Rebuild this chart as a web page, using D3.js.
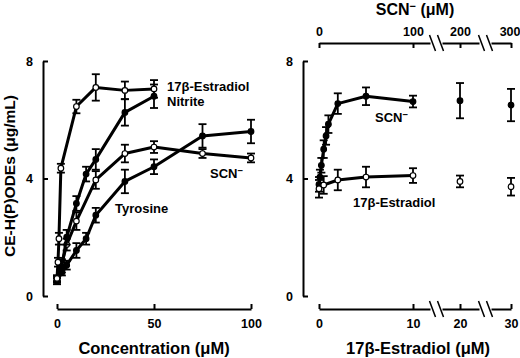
<!DOCTYPE html>
<html>
<head>
<meta charset="utf-8">
<script src="https://cdn.jsdelivr.net/npm/d3@7"></script>
<style>
  body { margin: 0; background: #fff; }
  svg { display: block; }
  text { font-family: "Liberation Sans", Arial, sans-serif; font-weight: bold; fill: #000; }
</style>
</head>
<body>
<div id="chart"></div>
<script>
// left panel: concentration (uM) vs CE-H(P)ODEs (ug/mL)
const estX = [0, 0.5, 1, 2, 10, 20, 35, 50];
const estY = [0.6, 1.15, 1.95, 4.35, 6.45, 7.1, 7.0, 7.05];
const estE = [0.1, 0.15, 0.2, 0.15, 0.23, 0.45, 0.3, 0.3];

const nitX = [0, 2.5, 5, 10, 15, 20, 35, 50];
const nitY = [0.55, 1.0, 2.0, 3.15, 4.15, 4.65, 6.25, 6.8];
const nitE = [0.1, 0.2, 0.25, 0.25, 0.25, 0.35, 0.45, 0.4];

const scnX = [0, 2.5, 5, 10, 20, 35, 50, 75, 100];
const scnY = [0.6, 1.1, 1.75, 2.55, 3.95, 4.85, 5.07, 4.85, 4.7];
const scnE = [0.1, 0.15, 0.2, 0.3, 0.3, 0.3, 0.2, 0.15, 0.15];

const tyrX = [0, 2.5, 5, 10, 15, 20, 35, 50, 75, 100];
const tyrY = [0.5, 0.8, 1.05, 1.55, 1.95, 2.75, 3.9, 4.4, 5.45, 5.6];
const tyrE = [0.1, 0.1, 0.15, 0.25, 0.2, 0.25, 0.4, 0.25, 0.4, 0.4];

// right panel: SCN- (top axis) and 17b-estradiol (bottom axis)
const scnRX = [0, 1, 2.5, 5, 7.5, 10, 20, 50, 100];
const scnRY = [3.8, 4.05, 4.45, 5.0, 5.45, 5.85, 6.55, 6.8, 6.62];
const scnRE = [0.25, 0.25, 0.25, 0.3, 0.3, 0.3, 0.35, 0.3, 0.2];
const scnBX = [200, 300];
const scnBY = [6.65, 6.5];
const scnBE = [0.6, 0.55];

const estRX = [0, 0.5, 2, 5, 10];
const estRY = [3.65, 3.78, 3.95, 4.05, 4.1];
const estRE = [0.3, 0.3, 0.35, 0.35, 0.25];
const estBX = [20, 30];
const estBY = [3.9, 3.72];
const estBE = [0.2, 0.3];

const yTicks = [0, 4, 8];
const leftTicks = [0, 50, 100];
const rightBottomTicks = [0, 10, 20, 30];
const rightTopTicks = [0, 100, 200, 300];

const W = 520, H = 358;
const svg = d3.select('#chart').append('svg').attr('width', W).attr('height', H);

const y = d3.scaleLinear().domain([0, 8]).range([296, 61]);
const xL = d3.scaleLinear().domain([0, 100]).range([57, 251]);
const xRB = d3.scaleLinear().domain([0, 10, 20, 30]).range([319, 413, 460, 511]);
const xRT = d3.scaleLinear().domain([0, 100, 200, 300]).range([319, 413, 460, 511]);

function styleAxis(g) {
  g.selectAll('.domain').attr('stroke', '#000').attr('stroke-width', 2);
  g.selectAll('.tick line').attr('stroke', '#000').attr('stroke-width', 2);
  g.selectAll('.tick text').attr('font-size', 12.5).style('font-family', '"Liberation Sans", Arial, sans-serif').style('font-weight', 'bold');
}

// y axes
[43, 303].forEach(ax => {
  svg.append('g').attr('transform', `translate(${ax},0)`)
    .call(d3.axisLeft(y).tickValues(yTicks).tickSizeInner(-5).tickSizeOuter(0).tickPadding(10))
    .call(styleAxis);
});

// bottom axes
svg.append('g').attr('transform', 'translate(0,309)')
  .call(d3.axisBottom(xL).tickValues(leftTicks).tickSizeInner(-5).tickSizeOuter(0).tickPadding(10))
  .call(styleAxis);

const rb = svg.append('g').attr('transform', 'translate(0,309)')
  .call(d3.axisBottom(xRB).tickValues(rightBottomTicks).tickSizeInner(-5).tickSizeOuter(0).tickPadding(10))
  .call(styleAxis);

const rt = svg.append('g').attr('transform', 'translate(0,43)')
  .call(d3.axisTop(xRT).tickValues(rightTopTicks).tickSizeInner(-5).tickSizeOuter(0).tickPadding(7))
  .call(styleAxis);
// keep the last top label inside the page
rt.selectAll('.tick text').filter(d => d === 300).attr('text-anchor', 'end').attr('dx', 9);

// axis breaks
function addBreaks(g, scale, vals) {
  vals.forEach(v => {
    const cx = scale(v);
    g.append('rect').attr('x', cx - 6).attr('y', -4).attr('width', 12).attr('height', 8).attr('fill', '#fff');
    [-4, 4].forEach(dx => {
      g.append('line').attr('x1', cx + dx - 3).attr('y1', -8).attr('x2', cx + dx + 3).attr('y2', 8)
        .attr('stroke', '#000').attr('stroke-width', 1.5);
    });
  });
}
addBreaks(rb, xRB, [15, 25]);
addBreaks(rt, xRT, [150, 250]);

// axis titles
svg.append('text').attr('x', 154).attr('y', 354).attr('text-anchor', 'middle').attr('font-size', 16.5)
  .text('Concentration (μM)');
svg.append('text').attr('x', 418).attr('y', 354).attr('text-anchor', 'middle').attr('font-size', 16.5)
  .text('17β-Estradiol (μM)');
const topTitle = svg.append('text').attr('x', 415).attr('y', 15).attr('text-anchor', 'middle').attr('font-size', 16);
topTitle.append('tspan').text('SCN');
topTitle.append('tspan').attr('font-size', 11).attr('dy', -5).text('−');
topTitle.append('tspan').attr('dy', 5).text(' (μM)');
svg.append('text').attr('transform', 'translate(15,176) rotate(-90)').attr('text-anchor', 'middle').attr('font-size', 15.5)
  .text('CE-H(P)ODEs (μg/mL)');

// series drawing
const line = d3.line();
function drawSeries(xs, ys, es, xScale, filled, joined) {
  const pts = xs.map((v, i) => [xScale(v), y(ys[i])]);
  if (joined) {
    svg.append('path').attr('d', line(pts)).attr('fill', 'none').attr('stroke', '#000')
      .attr('stroke-width', 3).attr('stroke-linejoin', 'round');
  }
  const g = svg.append('g');
  xs.forEach((v, i) => {
    const cx = xScale(v), y1 = y(ys[i] + es[i]), y2 = y(ys[i] - es[i]);
    g.append('line').attr('x1', cx).attr('x2', cx).attr('y1', y1).attr('y2', y2).attr('stroke', '#000').attr('stroke-width', 1.8);
    [y1, y2].forEach(yy => g.append('line').attr('x1', cx - 4).attr('x2', cx + 4).attr('y1', yy).attr('y2', yy)
      .attr('stroke', '#000').attr('stroke-width', 1.8));
  });
  g.selectAll('circle').data(pts).enter().append('circle')
    .attr('cx', d => d[0]).attr('cy', d => d[1]).attr('r', 2.8)
    .attr('fill', filled ? '#000' : '#fff').attr('stroke', '#000').attr('stroke-width', 1.2);
}

drawSeries(tyrX, tyrY, tyrE, xL, true, true);
drawSeries(scnX, scnY, scnE, xL, false, true);
drawSeries(nitX, nitY, nitE, xL, true, true);
drawSeries(estX, estY, estE, xL, false, true);

drawSeries(scnRX, scnRY, scnRE, xRT, true, true);
drawSeries(scnBX, scnBY, scnBE, xRT, true, false);
drawSeries(estRX, estRY, estRE, xRB, false, true);
drawSeries(estBX, estBY, estBE, xRB, false, false);

// series labels
function label(x, yy, parts) {
  const t = svg.append('text').attr('x', x).attr('y', yy).attr('font-size', 13);
  t.append('tspan').text(parts[0]);
  if (parts[1]) t.append('tspan').attr('font-size', 9.5).attr('dy', -4).text(parts[1]);
}
label(167, 91, ['17β-Estradiol']);
label(167, 106, ['Nitrite']);
label(210, 178, ['SCN', '−']);
label(115, 213, ['Tyrosine']);
label(375, 122, ['SCN', '−']);
label(353, 207, ['17β-Estradiol']);
</script>
</body>
</html>
